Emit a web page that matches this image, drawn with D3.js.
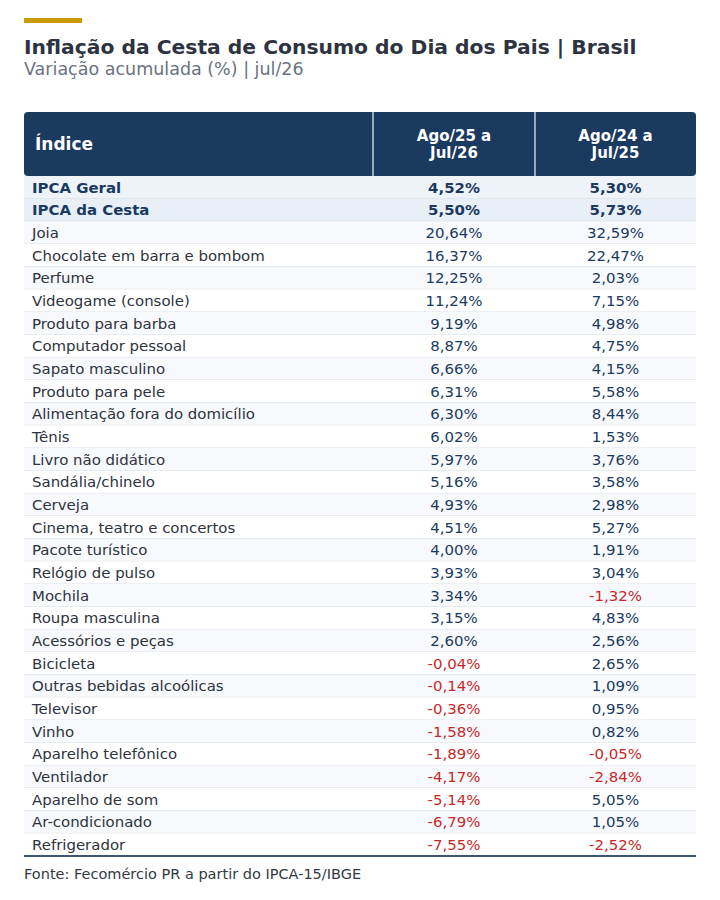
<!DOCTYPE html>
<html>
<head>
<meta charset="utf-8">
<style>
body { margin: 0; background: #fff; }
svg { font-family: "DejaVu Sans", sans-serif; }
</style>
</head>
<body>
<svg id="chart" width="720" height="900"></svg>
<script src="https://d3js.org/d3.v7.min.js"></script>
<script>
const items = ["IPCA Geral", "IPCA da Cesta", "Joia", "Chocolate em barra e bombom", "Perfume",
  "Videogame (console)", "Produto para barba", "Computador pessoal", "Sapato masculino",
  "Produto para pele", "Alimentação fora do domicílio", "Tênis", "Livro não didático",
  "Sandália/chinelo", "Cerveja", "Cinema, teatro e concertos", "Pacote turístico",
  "Relógio de pulso", "Mochila", "Roupa masculina", "Acessórios e peças", "Bicicleta",
  "Outras bebidas alcoólicas", "Televisor", "Vinho", "Aparelho telefônico", "Ventilador",
  "Aparelho de som", "Ar-condicionado", "Refrigerador"];
const var2526 = [4.52, 5.50, 20.64, 16.37, 12.25, 11.24, 9.19, 8.87, 6.66, 6.31, 6.30, 6.02, 5.97,
  5.16, 4.93, 4.51, 4.00, 3.93, 3.34, 3.15, 2.60, -0.04, -0.14, -0.36, -1.58, -1.89, -4.17,
  -5.14, -6.79, -7.55];
const var2425 = [5.30, 5.73, 32.59, 22.47, 2.03, 7.15, 4.98, 4.75, 4.15, 5.58, 8.44, 1.53, 3.76,
  3.58, 2.98, 5.27, 1.91, 3.04, -1.32, 4.83, 2.56, 2.65, 1.09, 0.95, 0.82, -0.05, -2.84,
  5.05, 1.05, -2.52];
const columns = ["Índice", "Ago/25 a Jul/26", "Ago/24 a Jul/25"];
const headerLines = [["Índice"], ["Ago/25 a", "Jul/26"], ["Ago/24 a", "Jul/25"]];

const navy = "#1a3a5f", red = "#c62828", ink = "#2d3340";
const svg = d3.select("#chart");
const left = 24, right = 696, headTop = 112, headBottom = 176, tableBottom = 856;

const rows = items.map((name, i) => ({ name, a: var2526[i], b: var2425[i], i }));

const x = d3.scaleOrdinal().domain(columns).range([left, 373, 535]);
const colEnd = d3.scaleOrdinal().domain(columns).range([373, 535, right]);
const y = d3.scaleBand().domain(d3.range(rows.length)).range([headBottom, tableBottom]);
const fmt = v => d3.format(".2f")(v).replace("−", "-").replace(".", ",") + "%";

// title block
svg.append("rect").attr("x", 24).attr("y", 18).attr("width", 58).attr("height", 5).attr("fill", "#c99a06");
svg.append("text").attr("x", 24).attr("y", 54).attr("font-size", 20.3).attr("font-weight", "bold")
  .attr("fill", ink).text("Inflação da Cesta de Consumo do Dia dos Pais | Brasil");
svg.append("text").attr("x", 24).attr("y", 74.5).attr("font-size", 17.5).attr("fill", "#6b7280")
  .text("Variação acumulada (%) | jul/26");

// header
svg.append("rect").attr("x", left).attr("y", headTop).attr("width", right - left)
  .attr("height", headBottom - headTop).attr("rx", 4).attr("fill", navy);
svg.selectAll(".hsep").data(columns.slice(1)).join("line")
  .attr("x1", d => x(d)).attr("x2", d => x(d)).attr("y1", headTop).attr("y2", headBottom)
  .attr("stroke", "#c5cfdc").attr("stroke-width", 1.5);
columns.forEach((c, ci) => {
  const lines = headerLines[ci];
  const cx = ci === 0 ? x(c) + 11 : (x(c) + colEnd(c)) / 2;
  const t = svg.append("text").attr("x", cx).attr("fill", "#fff").attr("font-weight", "bold")
    .attr("font-size", ci === 0 ? 17 : 15).attr("text-anchor", ci === 0 ? "start" : "middle");
  const mid = (headTop + headBottom) / 2;
  lines.forEach((l, li) => {
    t.append("tspan").attr("x", cx)
      .attr("y", mid + 6 + (li - (lines.length - 1) / 2) * 17 - (ci === 0 ? 0 : 1))
      .text(l);
  });
});

// rows
const g = svg.append("g");
const rowG = g.selectAll(".row").data(rows).join("g").attr("class", "row");
rowG.append("rect").attr("x", left).attr("width", right - left)
  .attr("y", d => y(d.i)).attr("height", y.bandwidth())
  .attr("fill", d => d.i === 0 ? "#eef3f9" : d.i === 1 ? "#e8eff7" : (d.i % 2 === 0 ? "#f7f9fc" : "#ffffff"));
rowG.append("line").attr("x1", left).attr("x2", right)
  .attr("y1", d => y(d.i) + y.bandwidth()).attr("y2", d => y(d.i) + y.bandwidth())
  .attr("stroke", "#d8dee6").attr("stroke-width", 1);

const bold = d => d.i < 2;
rowG.append("text").attr("x", x(columns[0]) + 8)
  .attr("y", d => y(d.i) + y.bandwidth() / 2 + 5.3)
  .attr("font-size", 14.95).attr("font-weight", d => bold(d) ? "bold" : "normal")
  .attr("fill", d => bold(d) ? navy : ink).text(d => d.name);

[["a", columns[1]], ["b", columns[2]]].forEach(([k, c]) => {
  rowG.append("text").attr("x", (x(c) + colEnd(c)) / 2)
    .attr("y", d => y(d.i) + y.bandwidth() / 2 + 5.3)
    .attr("text-anchor", "middle").attr("font-size", 14.95)
    .attr("font-weight", d => bold(d) ? "bold" : "normal")
    .attr("fill", d => d[k] < 0 ? red : navy).text(d => fmt(d[k]));
});

svg.append("line").attr("x1", left).attr("x2", right).attr("y1", tableBottom).attr("y2", tableBottom)
  .attr("stroke", "#3d5473").attr("stroke-width", 2);

svg.append("text").attr("x", 24).attr("y", 879).attr("font-size", 14.5).attr("fill", "#333a45")
  .text("Fonte: Fecomércio PR a partir do IPCA-15/IBGE");
</script>
</body>
</html>
